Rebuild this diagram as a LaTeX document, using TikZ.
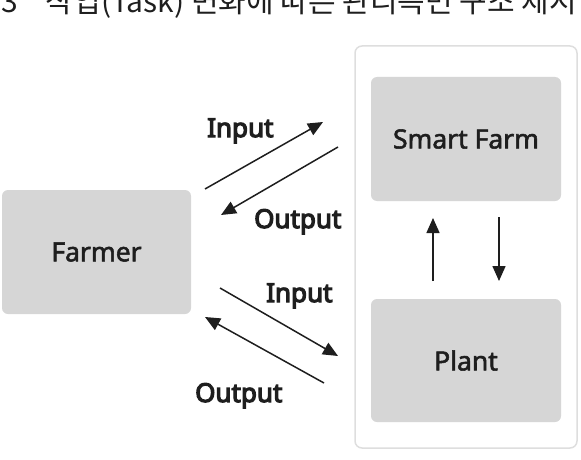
\documentclass[tikz,border=0pt]{standalone}
\usepackage{fontspec}
\setmainfont{Noto Sans}
\newfontfamily\boxfont{Noto Sans}[FakeBold=2]
\newfontfamily\iofont{Noto Sans}[FakeBold=4.5]
\newfontfamily\krfont{Noto Sans CJK KR}
\usetikzlibrary{arrows.meta}
\definecolor{boxgray}{HTML}{D6D6D6}
\definecolor{framegray}{HTML}{DEDEDE}
\definecolor{inkgray}{HTML}{1E1E1E}
\begin{document}
\begin{tikzpicture}[x=1pt,y=-1pt,
  box/.style={rectangle, fill=boxgray, rounded corners=6pt, draw=none, inner sep=0pt,
              font=\boxfont\fontsize{26.5}{30}\selectfont, text=inkgray},
  frame/.style={rectangle, draw=framegray, line width=1.5pt, fill=white, rounded corners=7pt, inner sep=0pt},
  io/.style={font=\iofont\fontsize{26}{30}\selectfont, anchor=base west, inner sep=0pt, text=inkgray},
  arr/.style={line width=1.5pt, draw=inkgray, -{Triangle[length=15pt,width=13pt]}},
]
\useasboundingbox (0,0) rectangle (581,460);
\begin{scope}
  \clip (0,0) rectangle (581,460);
  \node[anchor=base west, inner sep=0pt, text=inkgray,
        font=\krfont\fontsize{30}{34}\selectfont] (title) at (-24,13)
        {3.3\hspace{28pt}작업(Task) 변화에 따른 관리측면 구조 제시};
\end{scope}

\node[frame, minimum width=222pt, minimum height=402pt] (system) at (466,247) {};
\node[box, minimum width=189pt, minimum height=124pt] (farmer) at (96.5,252) {Farmer};
\node[box, minimum width=190pt, minimum height=124pt] (smart) at (466,139) {Smart Farm};
\node[box, minimum width=190pt, minimum height=123pt] (plant) at (466,360.5) {Plant};

\coordinate (ti1) at (205,189); \coordinate (ti2) at (323,122);
\coordinate (to1) at (338,147); \coordinate (to2) at (221,215);
\coordinate (bi1) at (220,288); \coordinate (bi2) at (338,356);
\coordinate (bo1) at (324,383); \coordinate (bo2) at (205,317);
\coordinate (up1) at (433,281); \coordinate (up2) at (433,218);
\coordinate (dn1) at (499,217); \coordinate (dn2) at (499,281);

\draw[arr] (ti1) -- (ti2);
\draw[arr] (to1) -- (to2);
\draw[arr] (bi1) -- (bi2);
\draw[arr] (bo1) -- (bo2);
\draw[arr] (up1) -- (up2);
\draw[arr] (dn1) -- (dn2);

\node[io] (tin) at (207,137) {Input};
\node[io] (tout) at (254,228) {Output};
\node[io] (bin) at (266,302) {Input};
\node[io] (bout) at (195,402) {Output};
\end{tikzpicture}
\end{document}
